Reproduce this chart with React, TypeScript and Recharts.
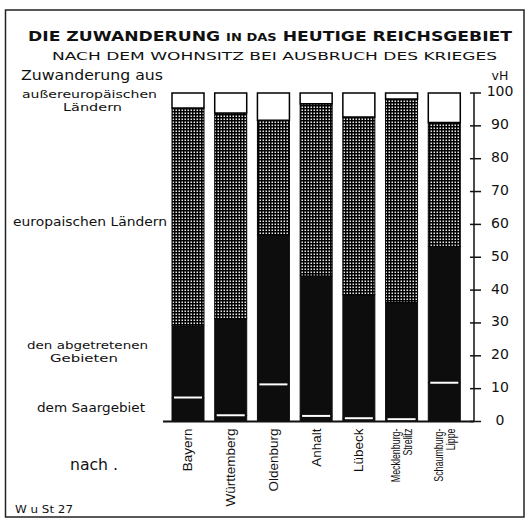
import React from 'react';
import { BarChart, Bar, XAxis, YAxis } from 'recharts';

const categories = ['Bayern', 'Württemberg', 'Oldenburg', 'Anhalt', 'Lübeck', 'Mecklenburg-Strelitz', 'Schaumburg-Lippe'];
const saargebiet = [7.3, 1.9, 11.3, 1.7, 1.0, 0.7, 11.8];
const abgetreteneGebiete = [21.8, 29.3, 45.5, 42.6, 37.5, 35.5, 41.5];
const europaeischeLaender = [66.3, 62.7, 34.9, 52.4, 54.2, 62.0, 37.7];
const aussereuropaeischeLaender = [4.6, 6.1, 8.3, 3.3, 7.3, 1.8, 9.0];
const yTicks = [0, 10, 20, 30, 40, 50, 60, 70, 80, 90, 100];

const data = categories.map((name, i) => ({
  name,
  saar: saargebiet[i],
  abgetreten: abgetreteneGebiete[i],
  europa: europaeischeLaender[i],
  aussereuropa: aussereuropaeischeLaender[i],
}));

const FONT = '"DejaVu Sans", sans-serif';
const LFONT = '"Liberation Sans", Arial, sans-serif';
const INK = '#111';

function AbgetretenShape(props: any) {
  const { x, y, width, height } = props;
  if (width == null || height == null) return null;
  return (
    <g>
      <rect x={x} y={y} width={width} height={height} fill="#0d0d0d" stroke="#0d0d0d" strokeWidth={1} />
      <line x1={x + 2} x2={x + width - 2} y1={y + height} y2={y + height} stroke="#fff" strokeWidth={2} />
    </g>
  );
}

function CategoryTick(props: any) {
  const { x, y, payload } = props;
  const value: string = String(payload.value);
  const idx = value.indexOf('-');
  const lines = idx >= 0 ? [value.slice(0, idx + 1), value.slice(idx + 1)] : [value];
  const two = lines.length === 2;
  const offsets = two ? [-5.5, 6.5] : [0];
  const size = two ? 12 : 13.5;
  return (
    <g transform={`translate(${x},${y + 7}) rotate(-90) scale(${two ? 0.74 : 1},1)`}>
      {lines.map((l, i) => (
        <text key={i} x={0} y={offsets[i]} dy="0.3em" textAnchor="end" fontFamily={LFONT} fontSize={size} fill={INK}>
          {l}
        </text>
      ))}
    </g>
  );
}

function ValueTick(props: any) {
  const { x, y, payload } = props;
  return (
    <g>
      <line x1={x - 4} x2={x + 7} y1={y} y2={y} stroke={INK} strokeWidth={1.5} />
      <text x={x + 26} y={y - 1.5} dy="0.35em" textAnchor="middle" fontFamily={FONT} fontSize={14} fill={INK}>
        {payload.value}
      </text>
    </g>
  );
}

export default function App() {
  return (
    <div style={{ position: 'absolute', left: 0, top: 0, width: 529, height: 519, background: '#fff' }}>
      <div style={{ position: 'absolute', left: 0, top: 0 }}>
        <BarChart width={529} height={519} data={data} margin={{ top: 93, right: 0, bottom: 0, left: 163 }} barSize={32}>
          <defs>
            <pattern id="grid" width="3" height="3" patternUnits="userSpaceOnUse">
              <rect width="3" height="3" fill="#e8e8e8" />
              <rect x="0" y="0" width="3" height="1.5" fill="#000" />
              <rect x="0" y="0" width="1.5" height="3" fill="#000" />
            </pattern>
          </defs>
          <XAxis
            dataKey="name"
            height={97.5}
            interval={0}
            tickLine={false}
            tickSize={0}
            tickMargin={0}
            axisLine={{ stroke: INK, strokeWidth: 1.8 }}
            tick={<CategoryTick />}
            padding={{ left: 4, right: 8 }}
          />
          <YAxis
            orientation="right"
            width={55}
            domain={[0, 100]}
            ticks={yTicks}
            interval={0}
            tickLine={false}
            tickSize={0}
            tickMargin={0}
            axisLine={{ stroke: INK, strokeWidth: 1.5 }}
            tick={<ValueTick />}
          />
          <Bar dataKey="saar" stackId="a" fill="#0d0d0d" stroke="#0d0d0d" strokeWidth={1} isAnimationActive={false} />
          <Bar dataKey="abgetreten" stackId="a" shape={<AbgetretenShape />} isAnimationActive={false} />
          <Bar dataKey="europa" stackId="a" fill="url(#grid)" stroke="#000" strokeWidth={1} isAnimationActive={false} />
          <Bar dataKey="aussereuropa" stackId="a" fill="#fff" stroke="#000" strokeWidth={1.5} isAnimationActive={false} />
        </BarChart>
      </div>
      <svg width={529} height={519} style={{ position: 'absolute', left: 0, top: 0, pointerEvents: 'none' }}>
        <rect x={5.5} y={10} width={518.5} height={507} fill="none" stroke="#222" strokeWidth={1.5} />
        <text x={28} y={41} textLength={484} lengthAdjust="spacingAndGlyphs" fontFamily={FONT} fontWeight="bold" fontSize={14.5} fill={INK}>
          {'DIE ZUWANDERUNG '}
          <tspan fontSize={11}>{'IN DAS'}</tspan>
          {' HEUTIGE REICHSGEBIET'}
        </text>
        <text x={52} y={59.5} textLength={445} lengthAdjust="spacingAndGlyphs" fontFamily={FONT} fontSize={11} fill={INK}>
          NACH DEM WOHNSITZ BEI AUSBRUCH DES KRIEGES
        </text>
        <text x={21} y={80} textLength={142} lengthAdjust="spacingAndGlyphs" fontFamily={FONT} fontSize={14} fill={INK}>
          Zuwanderung aus
        </text>
        <text x={500} y={80} textAnchor="middle" fontFamily={FONT} fontSize={12.5} fill={INK}>vH</text>
        <text x={22} y={98} textLength={135} lengthAdjust="spacingAndGlyphs" fontFamily={FONT} fontSize={11} fill={INK}>
          außereuropäischen
        </text>
        <text x={63} y={111} textLength={59} lengthAdjust="spacingAndGlyphs" fontFamily={FONT} fontSize={11} fill={INK}>
          Ländern
        </text>
        <text x={13} y={226} textLength={154} lengthAdjust="spacingAndGlyphs" fontFamily={FONT} fontSize={12.5} fill={INK}>
          europaischen Ländern
        </text>
        <text x={27} y={349} textLength={121} lengthAdjust="spacingAndGlyphs" fontFamily={FONT} fontSize={11} fill={INK}>
          den abgetretenen
        </text>
        <text x={50} y={362} textLength={68} lengthAdjust="spacingAndGlyphs" fontFamily={FONT} fontSize={11} fill={INK}>
          Gebieten
        </text>
        <text x={37} y={412} textLength={108} lengthAdjust="spacingAndGlyphs" fontFamily={FONT} fontSize={12} fill={INK}>
          dem Saargebiet
        </text>
        <text x={70} y={470} textLength={48} lengthAdjust="spacingAndGlyphs" fontFamily={FONT} fontSize={15} fill={INK}>
          nach .
        </text>
        <text x={15} y={513} textLength={58} lengthAdjust="spacingAndGlyphs" fontFamily={FONT} fontSize={11} fill={INK}>
          W u St 27
        </text>
      </svg>
    </div>
  );
}
